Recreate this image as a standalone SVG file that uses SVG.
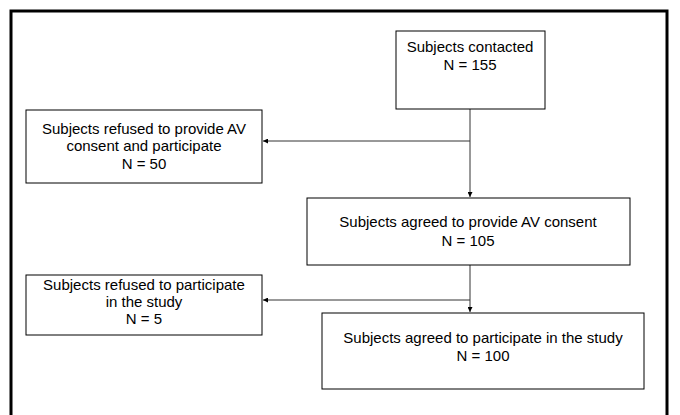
<svg xmlns="http://www.w3.org/2000/svg" width="680" height="415" viewBox="0 0 680 415">
<defs>
<style>
.box{fill:#fff;stroke:#000;stroke-width:1}
.t{font-family:"Liberation Sans",Arial,sans-serif;font-size:15px;fill:#000;text-anchor:middle}
.c{stroke:#333;stroke-width:1;fill:none}
</style>
<marker id="ah" viewBox="0 0 10 10" refX="10" refY="5" markerWidth="5" markerHeight="5" orient="auto"><path d="M0,0 L10,5 L0,10 z" fill="#000"/></marker>
</defs>
<rect width="680" height="415" fill="#fff"/>
<rect x="11" y="11" width="656" height="410" fill="none" stroke="#000" stroke-width="3"/>
<g id="connectors">
<path class="c" d="M470,109 V197" marker-end="url(#ah)"/>
<path class="c" d="M470,141 H263" marker-end="url(#ah)"/>
<path class="c" d="M470,265 V312" marker-end="url(#ah)"/>
<path class="c" d="M470,300 H263" marker-end="url(#ah)"/>
</g>
<g id="n1">
<rect class="box" x="396" y="31" width="149" height="78"/>
<text class="t" x="470" y="51.5">Subjects contacted</text>
<text class="t" x="470" y="69.5">N = 155</text>
</g>
<g id="n2">
<rect class="box" x="26" y="110" width="236" height="73"/>
<text class="t" x="144" y="133.5">Subjects refused to provide AV</text>
<text class="t" x="144" y="150.5">consent and participate</text>
<text class="t" x="144" y="168.5">N = 50</text>
</g>
<g id="n3">
<rect class="box" x="307" y="198" width="323" height="67"/>
<text class="t" x="468" y="226.5">Subjects agreed to provide AV consent</text>
<text class="t" x="468" y="245.5">N = 105</text>
</g>
<g id="n4">
<rect class="box" x="26" y="275" width="236" height="60"/>
<text class="t" x="144" y="289.5">Subjects refused to participate</text>
<text class="t" x="144" y="306.5">in the study</text>
<text class="t" x="144" y="323.5">N = 5</text>
</g>
<g id="n5">
<rect class="box" x="322" y="313" width="322" height="76"/>
<text class="t" x="483" y="342.5">Subjects agreed to participate in the study</text>
<text class="t" x="483" y="360.5">N = 100</text>
</g>
</svg>
